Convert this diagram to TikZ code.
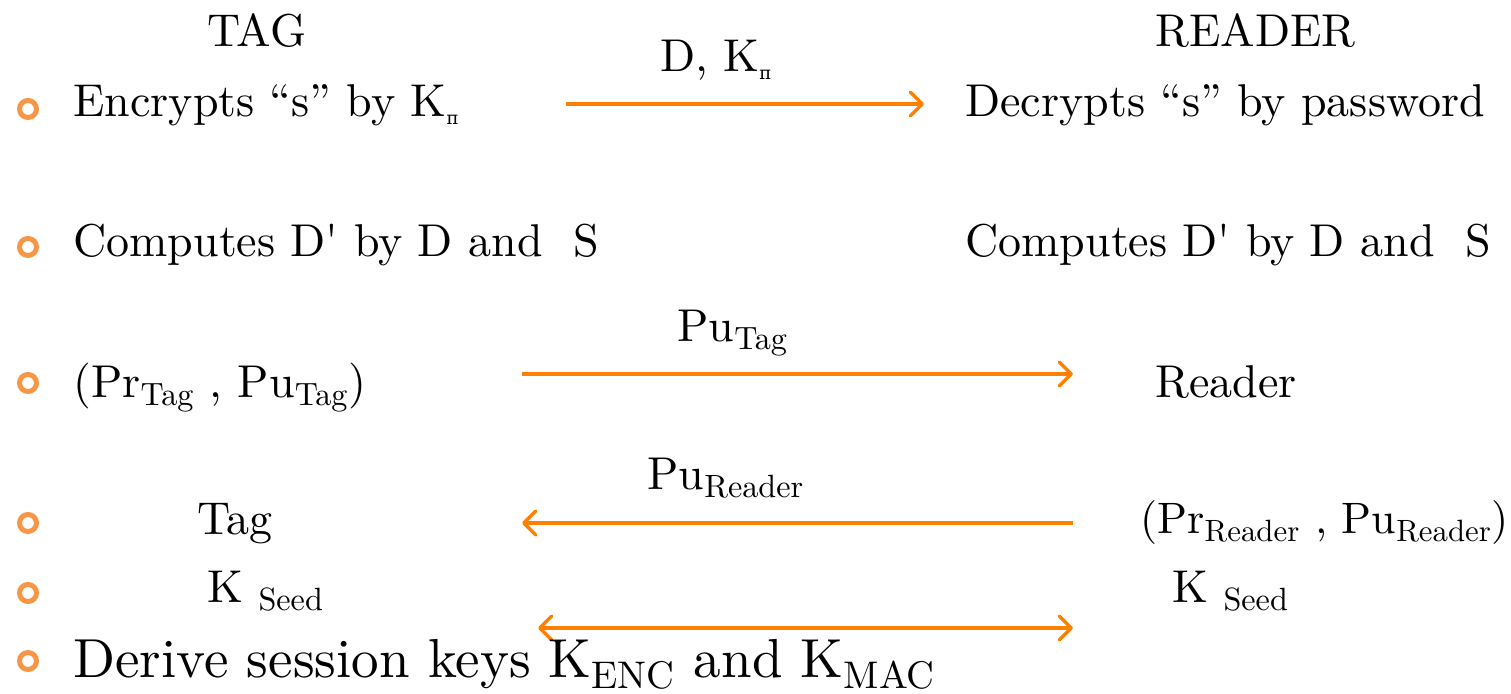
\documentclass[tikz,border=0pt]{standalone}
\usepackage{fontspec}
\setmainfont{lmroman10-regular.otf}[Ligatures=TeX]
\newfontfamily\cyr{DejaVu Serif}
\usetikzlibrary{arrows.meta}
\definecolor{bulletorange}{HTML}{F79646}
\definecolor{arroworange}{HTML}{FF8000}
\tikzset{
  barb/.tip={Straight Barb[length=6pt,width=12pt,line cap=round,line join=round]},
  txt/.style={anchor=base west, inner sep=0pt, font=\fontsize{23}{27}\selectfont},
  bigtxt/.style={anchor=base west, inner sep=0pt, font=\fontsize{27.5}{31}\selectfont},
  bul/.style={circle, draw=bulletorange, line width=2.5pt, minimum size=8.5pt, inner sep=0pt},
  msg/.style={draw=arroworange, line width=1.7pt, -barb},
  msgboth/.style={draw=arroworange, line width=1.7pt, barb-barb}
}
\begin{document}
\begin{tikzpicture}[x=0.5pt,y=-0.5pt]
\useasboundingbox (0,0) rectangle (1511,694);
% headers
\node[txt] (tag) at (207,47) {TAG};
\node[txt] (reader) at (1155,47) {READER};
% bullets
\node[bul] (b1) at (28,109) {};
\node[bul] (b2) at (28,247) {};
\node[bul] (b3) at (28,383) {};
\node[bul] (b4) at (28,523) {};
\node[bul] (b5) at (28,593) {};
\node[bul] (b6) at (28,661) {};
% row 1
\node[txt] (t1) at (73,117) {Encrypts ``s'' by K\textsubscript{\cyr\fontsize{9}{10}\selectfont п}};
\node[txt] (r1) at (965,117) {Decrypts ``s'' by password};
\node[txt] (l1) at (660,72) {D, K\textsubscript{\cyr\fontsize{9}{10}\selectfont п}};
\coordinate (a1s) at (566,104);
\coordinate (a1e) at (924,104);
\draw[msg] (a1s) -- (a1e);
% row 2
\node[txt] (t2) at (73,257) {Computes D\textquotesingle{} by D and~~S};
\node[txt] (r2) at (965,257) {Computes D\textquotesingle{} by D and~~S};
% row 3
\node[txt] (t3) at (73,398) {(Pr\textsubscript{Tag} , Pu\textsubscript{Tag})};
\node[txt] (r3) at (1155,398) {Reader};
\node[txt] (l2) at (677,342) {Pu\textsubscript{Tag}};
\coordinate (a2s) at (522,374);
\coordinate (a2e) at (1073,374);
\draw[msg] (a2s) -- (a2e);
% row 4
\node[txt] (t4) at (197,535) {Tag};
\node[txt, font=\fontsize{22}{26}\selectfont] (r4) at (1140,534) {(Pr\textsubscript{Reader} , Pu\textsubscript{Reader})};
\node[txt] (l3) at (647,490) {Pu\textsubscript{Reader}};
\coordinate (a3s) at (1073,523);
\coordinate (a3e) at (522,523);
\draw[msg] (a3s) -- (a3e);
% row 5
\node[txt] (t5) at (207,603) {K \textsubscript{Seed}};
\node[txt] (r5) at (1172,603) {K \textsubscript{Seed}};
\coordinate (a4s) at (538,628);
\coordinate (a4e) at (1073,628);
\draw[msgboth] (a4s) -- (a4e);
% row 6
\node[bigtxt] (t6) at (73,678) {Derive session keys K\textsubscript{ENC} and K\textsubscript{MAC}};
\end{tikzpicture}
\end{document}
